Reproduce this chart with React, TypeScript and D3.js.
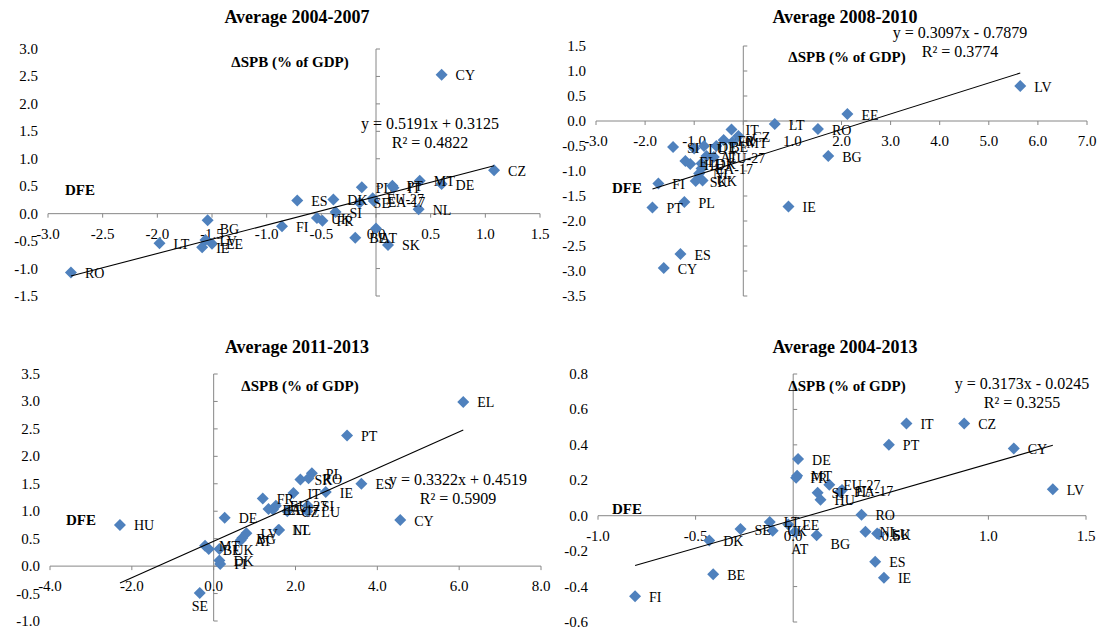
import React from "react";
import * as d3 from "d3";

// Each observation: country code, DFE (x) and change in SPB (y), % of GDP
interface Obs {
  code: string;
  dfe: number;
  spb: number;
}

interface Fit {
  slope: number;
  intercept: number;
  r2: number;
}

const obs2004_2007: Obs[] = [
  { code: "CY", dfe: 0.6, spb: 2.53 },
  { code: "CZ", dfe: 1.08, spb: 0.79 },
  { code: "MT", dfe: 0.4, spb: 0.6 },
  { code: "DE", dfe: 0.6, spb: 0.54 },
  { code: "PT", dfe: 0.15, spb: 0.51 },
  { code: "IT", dfe: 0.16, spb: 0.47 },
  { code: "NL", dfe: 0.39, spb: 0.08 },
  { code: "PL", dfe: -0.13, spb: 0.48 },
  { code: "DK", dfe: -0.39, spb: 0.26 },
  { code: "ES", dfe: -0.72, spb: 0.24 },
  { code: "SE", dfe: -0.15, spb: 0.2 },
  { code: "EU-27", dfe: -0.03, spb: 0.28 },
  { code: "EA-17", dfe: -0.02, spb: 0.23 },
  { code: "SI", dfe: -0.37, spb: 0.03 },
  { code: "UK", dfe: -0.54, spb: -0.08 },
  { code: "FR", dfe: -0.49, spb: -0.13 },
  { code: "BE", dfe: -0.19, spb: -0.44 },
  { code: "AT", dfe: 0.0, spb: -0.27 },
  { code: "SK", dfe: 0.11, spb: -0.57 },
  { code: "FI", dfe: -0.86, spb: -0.23 },
  { code: "BG", dfe: -1.54, spb: -0.12 },
  { code: "LT", dfe: -1.98, spb: -0.54 },
  { code: "RO", dfe: -2.79, spb: -1.07 },
  { code: "IE", dfe: -1.59, spb: -0.61 },
  { code: "LV", dfe: -1.56, spb: -0.48 },
  { code: "EE", dfe: -1.5, spb: -0.55 },
];

const obs2008_2010: Obs[] = [
  { code: "LV", dfe: 5.64, spb: 0.7 },
  { code: "EE", dfe: 2.12, spb: 0.14 },
  { code: "LT", dfe: 0.64, spb: -0.06 },
  { code: "RO", dfe: 1.52, spb: -0.16 },
  { code: "BG", dfe: 1.73, spb: -0.7 },
  { code: "IE", dfe: 0.92, spb: -1.71 },
  { code: "IT", dfe: -0.24, spb: -0.17 },
  { code: "CZ", dfe: -0.1, spb: -0.3 },
  { code: "MT", dfe: -0.22, spb: -0.42 },
  { code: "FR", dfe: -0.4, spb: -0.38 },
  { code: "BE", dfe: -0.55, spb: -0.5 },
  { code: "SI", dfe: -1.43, spb: -0.52 },
  { code: "LU", dfe: -1.0, spb: -0.55 },
  { code: "DE", dfe: -0.8, spb: -0.5 },
  { code: "AT", dfe: -0.75, spb: -0.7 },
  { code: "EU-27", dfe: -0.6, spb: -0.72 },
  { code: "EL", dfe: -1.18, spb: -0.8 },
  { code: "HU", dfe: -1.08, spb: -0.86 },
  { code: "DK", dfe: -0.85, spb: -0.85 },
  { code: "EA-17", dfe: -0.85, spb: -0.95 },
  { code: "NL", dfe: -0.9, spb: -1.05 },
  { code: "SK", dfe: -0.97, spb: -1.2 },
  { code: "UK", dfe: -0.83, spb: -1.19 },
  { code: "FI", dfe: -1.73, spb: -1.25 },
  { code: "PL", dfe: -1.2, spb: -1.62 },
  { code: "PT", dfe: -1.85, spb: -1.73 },
  { code: "ES", dfe: -1.28, spb: -2.66 },
  { code: "CY", dfe: -1.62, spb: -2.94 },
];

const obs2011_2013: Obs[] = [
  { code: "EL", dfe: 6.1, spb: 2.99 },
  { code: "PT", dfe: 3.26, spb: 2.38 },
  { code: "PL", dfe: 2.4, spb: 1.69 },
  { code: "RO", dfe: 2.32, spb: 1.6 },
  { code: "SK", dfe: 2.12, spb: 1.58 },
  { code: "ES", dfe: 3.61, spb: 1.5 },
  { code: "IE", dfe: 2.74, spb: 1.35 },
  { code: "IT", dfe: 1.95, spb: 1.33 },
  { code: "FR", dfe: 1.2, spb: 1.23 },
  { code: "EU-27", dfe: 1.52, spb: 1.1 },
  { code: "SI", dfe: 2.3, spb: 1.1 },
  { code: "EA-17", dfe: 1.34, spb: 1.04 },
  { code: "EE", dfe: 1.45, spb: 1.03 },
  { code: "CZ", dfe: 1.8, spb: 1.0 },
  { code: "LU", dfe: 2.29, spb: 1.0 },
  { code: "NL", dfe: 1.58, spb: 0.66 },
  { code: "LT", dfe: 1.6, spb: 0.66 },
  { code: "LV", dfe: 0.8, spb: 0.6 },
  { code: "BG", dfe: 0.7, spb: 0.51 },
  { code: "AT", dfe: 0.66, spb: 0.47 },
  { code: "DE", dfe: 0.27, spb: 0.88 },
  { code: "HU", dfe: -2.29, spb: 0.75 },
  { code: "CY", dfe: 4.56, spb: 0.84 },
  { code: "MT", dfe: -0.21, spb: 0.37 },
  { code: "BE", dfe: -0.12, spb: 0.31 },
  { code: "UK", dfe: 0.14, spb: 0.31 },
  { code: "DK", dfe: 0.14, spb: 0.1 },
  { code: "FI", dfe: 0.16, spb: 0.04 },
  { code: "SE", dfe: -0.34, spb: -0.49 },
];

const obs2004_2013: Obs[] = [
  { code: "IT", dfe: 0.58, spb: 0.52 },
  { code: "CZ", dfe: 0.876, spb: 0.52 },
  { code: "PT", dfe: 0.49, spb: 0.4 },
  { code: "CY", dfe: 1.13, spb: 0.38 },
  { code: "LV", dfe: 1.33, spb: 0.15 },
  { code: "DE", dfe: 0.025, spb: 0.32 },
  { code: "MT", dfe: 0.02, spb: 0.225 },
  { code: "FR", dfe: 0.015, spb: 0.215 },
  { code: "EU-27", dfe: 0.185, spb: 0.175 },
  { code: "EA-17", dfe: 0.25, spb: 0.145 },
  { code: "PL", dfe: 0.24, spb: 0.135 },
  { code: "SI", dfe: 0.125, spb: 0.13 },
  { code: "HU", dfe: 0.14, spb: 0.09 },
  { code: "RO", dfe: 0.35, spb: 0.005 },
  { code: "NL", dfe: 0.37, spb: -0.09 },
  { code: "LU", dfe: 0.43, spb: -0.1 },
  { code: "SK", dfe: 0.44, spb: -0.105 },
  { code: "ES", dfe: 0.42, spb: -0.26 },
  { code: "IE", dfe: 0.465, spb: -0.35 },
  { code: "BG", dfe: 0.12, spb: -0.11 },
  { code: "AT", dfe: 0.01, spb: -0.09 },
  { code: "EE", dfe: -0.025, spb: -0.05 },
  { code: "LT", dfe: -0.12, spb: -0.035 },
  { code: "UK", dfe: -0.105, spb: -0.085 },
  { code: "SE", dfe: -0.27, spb: -0.075 },
  { code: "DK", dfe: -0.43, spb: -0.14 },
  { code: "BE", dfe: -0.41, spb: -0.33 },
  { code: "FI", dfe: -0.81, spb: -0.455 },
];

// Linear trend fitted in each period
const fit2004_2007: Fit = { slope: 0.5191, intercept: 0.3125, r2: 0.4822 };
const fit2008_2010: Fit = { slope: 0.3097, intercept: -0.7879, r2: 0.3774 };
const fit2011_2013: Fit = { slope: 0.3322, intercept: 0.4519, r2: 0.5909 };
const fit2004_2013: Fit = { slope: 0.3173, intercept: -0.0245, r2: 0.3255 };

// Axis tick values
const xTicks2004_2007 = [-3.0, -2.5, -2.0, -1.5, -1.0, -0.5, 0.0, 0.5, 1.0, 1.5];
const yTicks2004_2007 = [-1.5, -1.0, -0.5, 0.0, 0.5, 1.0, 1.5, 2.0, 2.5, 3.0];
const xTicks2008_2010 = [-3.0, -2.0, -1.0, 0.0, 1.0, 2.0, 3.0, 4.0, 5.0, 6.0, 7.0];
const yTicks2008_2010 = [-3.5, -3.0, -2.5, -2.0, -1.5, -1.0, -0.5, 0.0, 0.5, 1.0, 1.5];
const xTicks2011_2013 = [-4.0, -2.0, 0.0, 2.0, 4.0, 6.0, 8.0];
const yTicks2011_2013 = [-1.0, -0.5, 0.0, 0.5, 1.0, 1.5, 2.0, 2.5, 3.0, 3.5];
const xTicks2004_2013 = [-1.0, -0.5, 0.0, 0.5, 1.0, 1.5];
const yTicks2004_2013 = [-0.6, -0.4, -0.2, 0.0, 0.2, 0.4, 0.6, 0.8];

interface PanelSpec {
  title: string;
  data: Obs[];
  xTicks: number[];
  yTicks: number[];
  fit: Fit;
  xPx: [number, number];
  yPx: [number, number];
  titleAt: [number, number];
  eqAt: [number, number];
  spbAt: [number, number];
  dfeAt: [number, number];
  // labels moved away from the default right-hand position
  labelShift?: Record<string, [number, number]>;
}

const panels: PanelSpec[] = [
  {
    title: "Average 2004-2007",
    data: obs2004_2007,
    xTicks: xTicks2004_2007,
    yTicks: yTicks2004_2007,
    fit: fit2004_2007,
    xPx: [48, 540],
    yPx: [296, 49],
    titleAt: [297, 17],
    eqAt: [430, 123],
    spbAt: [290, 62],
    dfeAt: [65, 190],
    labelShift: { BG: [12, 9], AT: [4, 10] },
  },
  {
    title: "Average 2008-2010",
    data: obs2008_2010,
    xTicks: xTicks2008_2010,
    yTicks: yTicks2008_2010,
    fit: fit2008_2010,
    xPx: [596, 1087],
    yPx: [296, 46],
    titleAt: [845, 17],
    eqAt: [960, 32],
    spbAt: [847, 57],
    dfeAt: [612, 188],
  },
  {
    title: "Average 2011-2013",
    data: obs2011_2013,
    xTicks: xTicks2011_2013,
    yTicks: yTicks2011_2013,
    fit: fit2011_2013,
    xPx: [50, 541],
    yPx: [621, 374],
    titleAt: [297, 347],
    eqAt: [458, 479],
    spbAt: [300, 386],
    dfeAt: [66, 520],
    labelShift: { SE: [-8, 13] },
  },
  {
    title: "Average 2004-2013",
    data: obs2004_2013,
    xTicks: xTicks2004_2013,
    yTicks: yTicks2004_2013,
    fit: fit2004_2013,
    xPx: [598, 1086],
    yPx: [622, 374],
    titleAt: [845, 347],
    eqAt: [1022, 383],
    spbAt: [847, 386],
    dfeAt: [612, 509],
    labelShift: { AT: [-4, 18], BG: [14, 9] },
  },
];

const FONT = "'Liberation Serif', 'Times New Roman', Times, serif";
const MARKER = "#4F81BD";
const AXIS = "#868686";

const fmt = (v: number) => d3.format(".1f")(v).replace("\u2212", "-");

function equation(f: Fit): string {
  const sign = f.intercept < 0 ? "-" : "+";
  return `y = ${f.slope.toFixed(4)}x ${sign} ${Math.abs(f.intercept).toFixed(4)}`;
}

const diamond = "M0,-6L6,0L0,6L-6,0Z";

function Panel({ spec }: { spec: PanelSpec }) {
  const { xTicks, yTicks, data, fit } = spec;
  const shift = spec.labelShift ?? {};
  const x = d3
    .scaleLinear()
    .domain([xTicks[0], xTicks[xTicks.length - 1]])
    .range(spec.xPx);
  const y = d3
    .scaleLinear()
    .domain([yTicks[0], yTicks[yTicks.length - 1]])
    .range(spec.yPx);
  const x0 = x(0);
  const y0 = y(0);

  const [lo, hi] = d3.extent(data, (d) => d.dfe) as [number, number];
  const trend = d3
    .line<number>()
    .x((v) => x(v))
    .y((v) => y(fit.slope * v + fit.intercept))([lo, hi]);

  return (
    <g fontFamily={FONT} fill="#000">
      <text x={spec.titleAt[0]} y={spec.titleAt[1]} textAnchor="middle" dominantBaseline="central" fontWeight="bold" fontSize={18}>
        {spec.title}
      </text>

      {/* axes crossing at the origin */}
      <line x1={spec.xPx[0]} x2={spec.xPx[1]} y1={y0} y2={y0} stroke={AXIS} strokeWidth={1} />
      <line x1={x0} x2={x0} y1={spec.yPx[0]} y2={spec.yPx[1]} stroke={AXIS} strokeWidth={1} />
      {xTicks.map((t) => (
        <line key={"xt" + t} x1={x(t)} x2={x(t)} y1={y0} y2={y0 + 4} stroke={AXIS} />
      ))}
      {yTicks.map((t) => (
        <line key={"yt" + t} x1={x0} x2={x0 + 4} y1={y(t)} y2={y(t)} stroke={AXIS} />
      ))}
      {xTicks.map((t) => (
        <text key={"xl" + t} x={x(t)} y={y0 + 20} textAnchor="middle" dominantBaseline="central" fontSize={15}>
          {fmt(t)}
        </text>
      ))}
      {yTicks.map((t) => (
        <text key={"yl" + t} x={spec.xPx[0] - 10} y={y(t)} textAnchor="end" dominantBaseline="central" fontSize={15}>
          {fmt(t)}
        </text>
      ))}

      {/* axis titles */}
      <text x={spec.spbAt[0]} y={spec.spbAt[1]} textAnchor="middle" dominantBaseline="central" fontWeight="bold" fontSize={15}>
        ΔSPB (% of GDP)
      </text>
      <text x={spec.dfeAt[0]} y={spec.dfeAt[1]} dominantBaseline="central" fontWeight="bold" fontSize={15}>
        DFE
      </text>

      {/* observations */}
      {data.map((d) => (
        <path key={"m" + d.code} d={diamond} transform={`translate(${x(d.dfe)},${y(d.spb)})`} fill={MARKER} />
      ))}
      {data.map((d) => {
        const [dx, dy] = shift[d.code] ?? [14, 1];
        return (
          <text key={"l" + d.code} x={x(d.dfe) + dx} y={y(d.spb) + dy} dominantBaseline="central" fontSize={14}>
            {d.code}
          </text>
        );
      })}

      {/* trend line and its equation */}
      <path d={trend ?? ""} fill="none" stroke="#000" strokeWidth={1.1} />
      <text x={spec.eqAt[0]} y={spec.eqAt[1]} textAnchor="middle" dominantBaseline="central" fontSize={16}>
        {equation(fit)}
      </text>
      <text x={spec.eqAt[0]} y={spec.eqAt[1] + 19} textAnchor="middle" dominantBaseline="central" fontSize={16}>
        {`R² = ${fit.r2.toFixed(4)}`}
      </text>
    </g>
  );
}

export default function App() {
  return (
    <svg
      width={1099}
      height={629}
      viewBox="0 0 1099 629"
      style={{ position: "absolute", left: 0, top: 0, background: "#fff" }}
    >
      <rect width={1099} height={629} fill="#fff" />
      {panels.map((p) => (
        <Panel key={p.title} spec={p} />
      ))}
    </svg>
  );
}
